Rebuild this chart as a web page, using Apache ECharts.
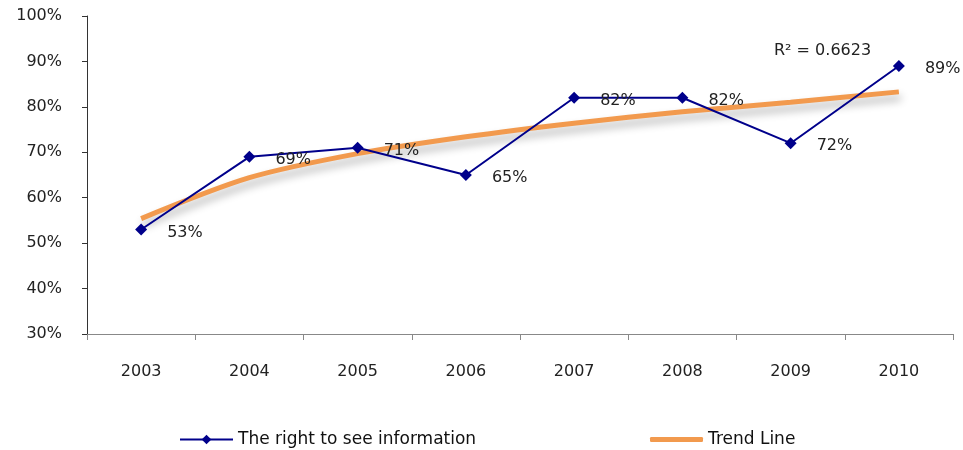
<!DOCTYPE html>
<html>
<head>
<meta charset="utf-8">
<script src="https://cdn.jsdelivr.net/npm/echarts@6/dist/echarts.min.js"></script>
<style>
html,body{margin:0;padding:0;background:#fff;}
#chart{width:963px;height:450px;}
</style>
</head>
<body>
<div id="chart"></div>
<script>
var categories = ['2003','2004','2005','2006','2007','2008','2009','2010'];
var rightToSee = [53, 69, 71, 65, 82, 82, 72, 89];
var trendLine = [55.4, 64.4, 69.7, 73.4, 76.4, 78.9, 81.0, 83.3];
var yTicks = [30, 40, 50, 60, 70, 80, 90, 100];
var seriesNames = ['The right to see information', 'Trend Line'];
var rSquaredText = 'R\u00B2 = 0.6623';

var FONT = 'DejaVu Sans';
var chart = echarts.init(document.getElementById('chart'));
chart.setOption({
  backgroundColor: '#fff',
  animation: false,
  textStyle: { fontFamily: FONT },
  grid: { left: 87, right: 10, top: 16, bottom: 116, containLabel: false },
  legend: [{
    left: 174, top: 426,
    itemWidth: 53, itemHeight: 12,
    textStyle: { fontFamily: FONT, fontSize: 17, color: '#111' },
    data: [seriesNames[0]]
  }, {
    left: 645, top: 426,
    itemWidth: 53, itemHeight: 5,
    textStyle: { fontFamily: FONT, fontSize: 17, color: '#111' },
    data: [{ name: seriesNames[1], icon: 'roundRect' }]
  }],
  xAxis: {
    type: 'category',
    data: categories,
    boundaryGap: true,
    axisLine: { lineStyle: { color: '#888', width: 1 } },
    axisTick: { show: true, alignWithLabel: false, length: 6, lineStyle: { color: '#888' } },
    axisLabel: { fontFamily: FONT, fontSize: 16, color: '#222', margin: 30 }
  },
  yAxis: {
    type: 'value',
    min: yTicks[0], max: yTicks[yTicks.length - 1], interval: 10,
    splitLine: { show: false },
    axisLine: { show: true, lineStyle: { color: '#333', width: 1 } },
    axisTick: { show: true, length: 5, lineStyle: { color: '#333' } },
    axisLabel: { fontFamily: FONT, fontSize: 16, color: '#222', margin: 25, formatter: '{value}%' }
  },
  graphic: [{
    type: 'text', left: 774, top: 43,
    style: { text: rSquaredText, fontFamily: FONT, fontSize: 16, fill: '#222' }
  }],
  series: [
    {
      name: seriesNames[1],
      type: 'line',
      data: trendLine,
      smooth: 0.3,
      symbol: 'none',
      z: 1,
      lineStyle: { color: '#F29A4E', width: 5, shadowColor: 'rgba(0,0,0,0.3)', shadowBlur: 8, shadowOffsetY: 6, shadowOffsetX: 2 },
      itemStyle: { color: '#F29A4E' }
    },
    {
      name: seriesNames[0],
      type: 'line',
      data: rightToSee,
      symbol: 'diamond',
      symbolSize: 12,
      z: 3,
      lineStyle: { color: '#00008B', width: 2 },
      itemStyle: { color: '#00008B' },
      label: {
        show: true, position: 'right', distance: 20, offset: [0, 3],
        fontFamily: FONT, fontSize: 16, color: '#222',
        formatter: '{c}%'
      }
    }
  ]
});
</script>
</body>
</html>
